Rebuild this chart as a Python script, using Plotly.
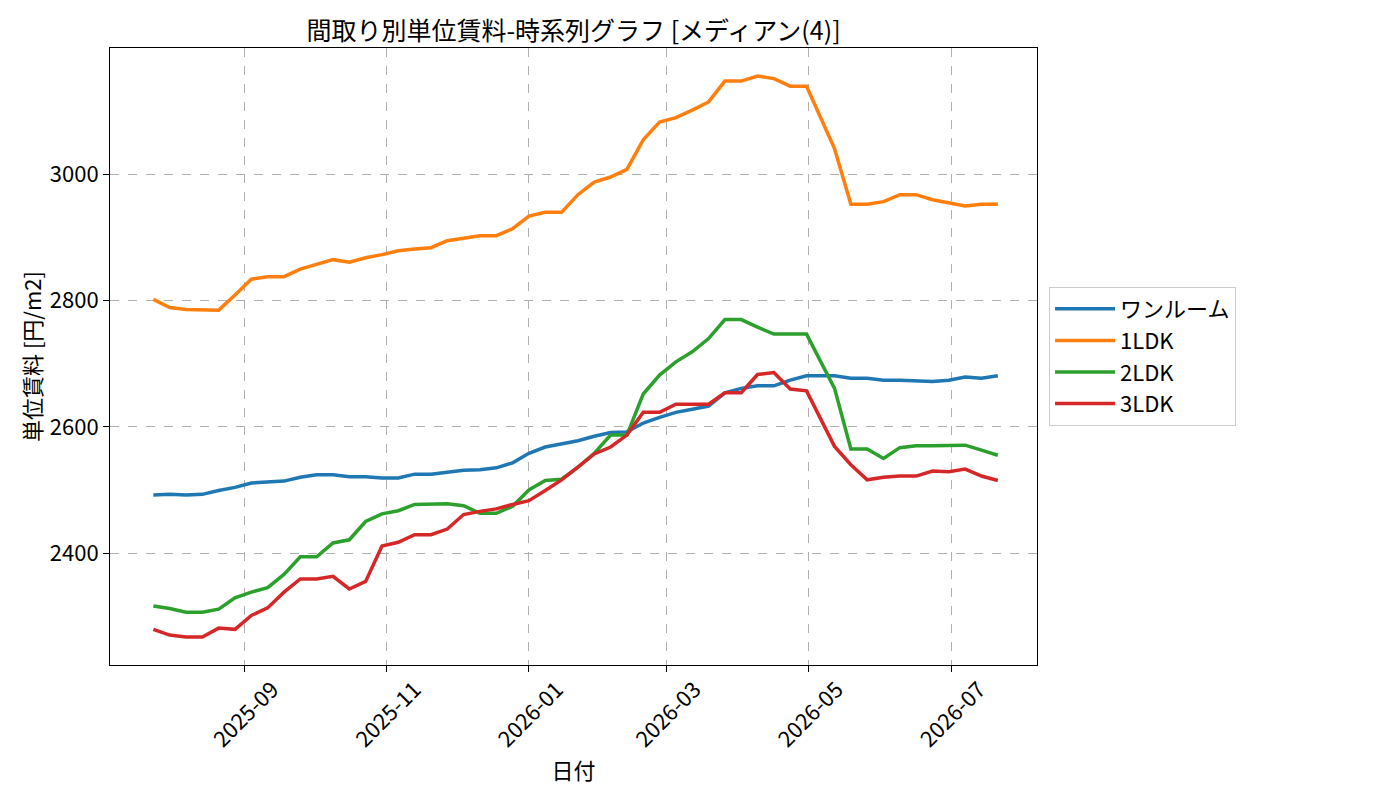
import plotly.graph_objects as go

dates = [
    "2025-07-24", "2025-07-31", "2025-08-07", "2025-08-14", "2025-08-21", "2025-08-28",
    "2025-09-04", "2025-09-11", "2025-09-18", "2025-09-25", "2025-10-02", "2025-10-09",
    "2025-10-16", "2025-10-23", "2025-10-30", "2025-11-06", "2025-11-13", "2025-11-20",
    "2025-11-27", "2025-12-04", "2025-12-11", "2025-12-18", "2025-12-25", "2026-01-01",
    "2026-01-08", "2026-01-15", "2026-01-22", "2026-01-29", "2026-02-05", "2026-02-12",
    "2026-02-19", "2026-02-26", "2026-03-05", "2026-03-12", "2026-03-19", "2026-03-26",
    "2026-04-02", "2026-04-09", "2026-04-16", "2026-04-23", "2026-04-30", "2026-05-12",
    "2026-05-19", "2026-05-26", "2026-06-02", "2026-06-09", "2026-06-16", "2026-06-23",
    "2026-06-30", "2026-07-07", "2026-07-14", "2026-07-21",
]

one_room = [
    2492, 2493, 2492, 2493, 2499, 2504, 2511, 2512, 2514, 2520, 2524, 2524,
    2521, 2521, 2519, 2519, 2525, 2525, 2528, 2531, 2532, 2535, 2543, 2558,
    2568, 2573, 2578, 2585, 2591, 2592, 2606, 2615, 2623, 2628, 2633, 2654,
    2661, 2665, 2665, 2674, 2681, 2681, 2677, 2677, 2674, 2674, 2673, 2672,
    2674, 2679, 2677, 2681,
]

ldk1 = [
    2802, 2789, 2786, 2785, 2785, 2809, 2834, 2838, 2838, 2850, 2858, 2865,
    2861, 2868, 2873, 2879, 2882, 2884, 2895, 2899, 2903, 2903, 2914, 2934,
    2940, 2940, 2968, 2988, 2996, 3008, 3055, 3083, 3090, 3102, 3115, 3148,
    3148, 3156, 3152, 3140, 3140, 3041, 2953, 2953, 2957, 2968, 2968, 2960,
    2955, 2950, 2953, 2953,
]

ldk2 = [
    2316, 2312, 2306, 2306, 2311, 2329, 2338, 2345, 2366, 2394, 2394, 2416,
    2421, 2450, 2462, 2467, 2477, 2478, 2478, 2475, 2463, 2463, 2474, 2500,
    2515, 2517, 2536, 2558, 2587, 2587, 2652, 2682, 2703, 2719, 2740, 2770,
    2770, 2758, 2747, 2747, 2747, 2661, 2565, 2565, 2550, 2567, 2570, 2570,
    2570, 2571, 2563, 2555,
]

ldk3 = [
    2279, 2270, 2267, 2267, 2281, 2279, 2301, 2313, 2338, 2359, 2359, 2363,
    2343, 2355, 2411, 2417, 2429, 2429, 2438, 2461, 2466, 2470, 2477, 2483,
    2499, 2516, 2536, 2557, 2568, 2587, 2623, 2623, 2636, 2636, 2636, 2654,
    2654, 2683, 2686, 2660, 2657, 2569, 2540, 2516, 2520, 2522, 2522, 2530,
    2529, 2533, 2522, 2515,
]

series_names = ["ワンルーム", "1LDK", "2LDK", "3LDK"]
series_values = [one_room, ldk1, ldk2, ldk3]
colors = ["#1f77b4", "#ff7f0e", "#2ca02c", "#d62728"]

y_ticks = [2400, 2600, 2800, 3000]

FONT = "Noto Sans CJK JP"

fig = go.Figure()
for name, vals, col in zip(series_names, series_values, colors):
    fig.add_trace(go.Scatter(
        x=dates, y=vals, mode="lines", name=name,
        line=dict(color=col, width=3.5),
    ))

axis_common = dict(
    showline=True, linecolor="black", linewidth=1, mirror=True,
    ticks="outside", ticklen=6, tickcolor="black", tickwidth=1,
    showgrid=True, gridcolor="#b0b0b0", griddash="dash", gridwidth=1,
    zeroline=False, tickfont=dict(family=FONT, size=22, color="black"),
)

fig.update_layout(
    width=1400, height=800,
    paper_bgcolor="white", plot_bgcolor="white",
    margin=dict(l=110, r=363, t=48, b=135),
    font=dict(family=FONT, color="black"),
    title=dict(
        text="間取り別単位賃料-時系列グラフ [メディアン(4)]",
        x=(110 + 1037) / 2 / 1400, xanchor="center",
        y=1 - 31 / 800, yanchor="middle",
        font=dict(family=FONT, size=25, color="black"),
    ),
    xaxis=dict(
        **axis_common,
        type="date",
        range=["2025-07-05 10:00", "2026-08-06 19:00"],
        tick0="2025-09-01", dtick="M2", tickformat="%Y-%m",
        tickangle=-45, ticklabelshift=28, ticklabelstandoff=-4,
        title=dict(text="日付", font=dict(family=FONT, size=22), standoff=0),
    ),
    yaxis=dict(
        **axis_common,
        range=[2222.5, 3200.5],
        tickmode="array", tickvals=y_ticks, ticktext=[str(v) for v in y_ticks],
        title=dict(text="単位賃料 [円/m2]", font=dict(family=FONT, size=22), standoff=2),
    ),
    legend=dict(
        x=1.013, xanchor="left", y=0.5, yanchor="middle",
        bgcolor="white", bordercolor="#cccccc", borderwidth=1,
        itemwidth=60,
        font=dict(family=FONT, size=22, color="black"),
    ),
)

fig.write_html("out.html")
